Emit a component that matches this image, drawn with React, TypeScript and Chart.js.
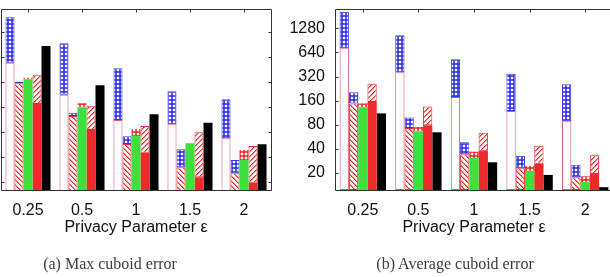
import React, { useEffect, useRef } from 'react';
import { Chart, registerables } from 'chart.js';

Chart.register(...registerables);

// ---------- data ----------
const epsilonLabels = ['0.25', '0.5', '1', '1.5', '2'];

// (a) Max cuboid error (linear axis, labels cropped in the figure)
const maxTicks = [100, 200, 300, 400, 500, 600, 700];
const maxA_base = [577, 449, 348, 331, 275];
const maxA_top = [759, 655, 555, 463, 431];
const maxB_base = [495, 364, 252, 159, 135];
const maxB_top = [501, 377, 283, 231, 188];
const maxC_base = [511, 399, 284, 255, 188];
const maxC_top = [517, 415, 312, 255, 228];
const maxD_base = [412, 308, 217, 119, 97];
const maxD_top = [527, 405, 324, 299, 244];
const maxE = [644, 487, 371, 337, 251];

// (b) Average cuboid error (log2 axis)
const avgTicks = [20, 40, 80, 160, 320, 640, 1280];
const avgA_base = [722, 362, 178, 119, 88.5];
const avgA_top = [2070, 1050, 527, 348, 256];
const avgB_base = [148, 73, 34.3, 22.9, 17.7];
const avgB_top = [204, 99, 48.4, 32.9, 25.4];
const avgC_base = [132, 66, 30.8, 21.2, 15.4];
const avgC_top = [148, 75, 36.9, 24.5, 18.2];
const avgD_base = [154, 79, 38, 26.1, 19.4];
const avgD_top = [261, 135, 63.8, 43.9, 33.3];
const avgE = [111, 64.5, 27.2, 18.9, 13.3];

// ---------- styles ----------
const PINK = '#e2546e';
const BLUE = '#3434e6';
const RED = '#f02a2a';
const GREEN = '#3ee03e';
const FONT = "'Liberation Sans', Arial, sans-serif";

function makeTile(ctx: CanvasRenderingContext2D, size: number, fn: (x: number, y: number) => string | null) {
  const c = document.createElement('canvas');
  c.width = size;
  c.height = size;
  const t = c.getContext('2d')!;
  t.fillStyle = '#ffffff';
  t.fillRect(0, 0, size, size);
  for (let y = 0; y < size; y++) {
    for (let x = 0; x < size; x++) {
      const col = fn(x, y);
      if (col) {
        t.fillStyle = col;
        t.fillRect(x, y, 1, 1);
      }
    }
  }
  return ctx.createPattern(c, 'repeat') as CanvasPattern;
}

function patterns(ctx: CanvasRenderingContext2D) {
  // dense cross-hatch: coloured grid with small white holes
  const cross = (col: string, soft: string) =>
    makeTile(ctx, 4, (x, y) => {
      const inX = x === 1 || x === 2;
      const inY = y === 1 || y === 2;
      if (inX && inY) return null;
      if (inX || inY) return soft;
      return col;
    });
  const back = makeTile(ctx, 5, (x, y) => {
    const d = (((x - y) % 5) + 5) % 5;
    return d === 0 ? RED : d === 1 ? '#f48a8a' : null;
  });
  const fwd = makeTile(ctx, 5, (x, y) => {
    const d = (x + y) % 5;
    return d === 0 ? RED : d === 1 ? '#f48a8a' : null;
  });
  return {
    blueX: cross(BLUE, '#5a5af0'),
    redX: cross(RED, '#f25a5a'),
    back,
    fwd,
  };
}

function framePlugin(yTicks: number[]) {
  return {
    id: 'frame',
    afterDraw(chart: any) {
      const { ctx, chartArea: a } = chart;
      const L = Math.floor(a.left) + 0.5;
      const R = Math.floor(a.right) + 0.5;
      const T = Math.floor(a.top) + 0.5;
      const B = Math.floor(a.bottom) + 0.5;
      ctx.save();
      ctx.strokeStyle = '#333333';
      ctx.lineWidth = 1;
      ctx.beginPath();
      ctx.rect(L, T, R - L, B - T);
      const len = 3;
      yTicks.forEach((v) => {
        const y = Math.round(chart.scales.y.getPixelForValue(v)) + 0.5;
        ctx.moveTo(L, y);
        ctx.lineTo(L + len, y);
        ctx.moveTo(R, y);
        ctx.lineTo(R - len, y);
      });
      epsilonLabels.forEach((_, i) => {
        const x = Math.round(chart.scales.x.getPixelForValue(i)) + 0.5;
        ctx.moveTo(x, T);
        ctx.lineTo(x, T + len);
      });
      ctx.stroke();
      ctx.restore();
    },
  };
}

const zeroPad = (s: any) => {
  s.paddingTop = 0;
  s.paddingBottom = 0;
  s.paddingLeft = 0;
  s.paddingRight = 0;
};

function buildConfig(ctx: CanvasRenderingContext2D, kind: 'max' | 'avg'): any {
  const p = patterns(ctx);
  const d =
    kind === 'max'
      ? {
          aB: maxA_base, aT: maxA_top, bB: maxB_base, bT: maxB_top,
          cB: maxC_base, cT: maxC_top, dB: maxD_base, dT: maxD_top, e: maxE,
        }
      : {
          aB: avgA_base, aT: avgA_top, bB: avgB_base, bT: avgB_top,
          cB: avgC_base, cT: avgC_top, dB: avgD_base, dT: avgD_top, e: avgE,
        };
  const pair = (b: number[], t: number[]) => b.map((v, i) => [v, t[i]]);
  const common = { borderWidth: 1, borderSkipped: false };
  const datasets = [
    { ...common, label: 'A', stack: 'a', data: d.aB, backgroundColor: '#ffffff', borderColor: PINK },
    { ...common, label: 'A2', stack: 'a', data: pair(d.aB, d.aT), backgroundColor: p.blueX, borderColor: BLUE },
    { ...common, label: 'B', stack: 'b', data: d.bB, backgroundColor: p.back, borderColor: RED },
    { ...common, label: 'B2', stack: 'b', data: pair(d.bB, d.bT), backgroundColor: p.blueX, borderColor: BLUE },
    { ...common, label: 'C', stack: 'c', data: d.cB, backgroundColor: GREEN, borderWidth: 0 },
    { ...common, label: 'C2', stack: 'c', data: pair(d.cB, d.cT), backgroundColor: p.redX, borderWidth: 0 },
    { ...common, label: 'D', stack: 'd', data: d.dB, backgroundColor: RED, borderWidth: 0 },
    { ...common, label: 'D2', stack: 'd', data: pair(d.dB, d.dT), backgroundColor: p.fwd, borderColor: RED },
    { ...common, label: 'E', stack: 'e', data: d.e, backgroundColor: '#000000', borderWidth: 0 },
  ];

  const yTicks = kind === 'max' ? maxTicks : avgTicks;
  const yScale: any =
    kind === 'max'
      ? {
          type: 'linear',
          display: false,
          stacked: false,
          bounds: 'data',
          min: 68,
          max: 792,
          afterBuildTicks: (s: any) => {
            s.ticks = maxTicks.map((v) => ({ value: v }));
          },
        }
      : {
          type: 'logarithmic',
          display: true,
          stacked: false,
          bounds: 'data',
          min: 12.26,
          max: 2236,
          grid: { display: false, drawTicks: false },
          border: { display: false },
          afterBuildTicks: (s: any) => {
            s.ticks = avgTicks.map((v) => ({ value: v }));
          },
          afterFit: (s: any) => {
            s.width = 65;
            zeroPad(s);
          },
          ticks: {
            padding: 10,
            color: '#111111',
            font: { family: FONT, size: 16, lineHeight: 1 },
            callback: (v: any) => String(v),
          },
        };

  return {
    type: 'bar',
    data: { labels: epsilonLabels, datasets },
    options: {
      responsive: false,
      animation: false,
      events: [],
      categoryPercentage: 0.834,
      barPercentage: 1,
      layout: {
        padding:
          kind === 'max'
            ? { left: 1, top: 9, right: 29, bottom: 41 }
            : { left: 0, top: 9, right: 2, bottom: 41 },
      },
      plugins: { legend: { display: false }, tooltip: { enabled: false }, title: { display: false } },
      scales: {
        x: {
          type: 'category',
          stacked: true,
          offset: true,
          grid: { display: false, drawTicks: false },
          border: { display: false },
          afterFit: (s: any) => {
            s.height = 46;
            zeroPad(s);
          },
          ticks: {
            padding: 13,
            color: '#111111',
            maxRotation: 0,
            autoSkip: false,
            font: { family: FONT, size: 16, lineHeight: 1 },
          },
          title: {
            display: true,
            text: 'Privacy Parameter ε',
            color: '#111111',
            padding: { top: 0, bottom: 0 },
            font: { family: FONT, size: 16, lineHeight: 1 },
          },
        },
        y: yScale,
      },
    },
    plugins: [framePlugin(yTicks)],
  };
}

function ChartCanvas(props: { kind: 'max' | 'avg'; left: number; width: number }) {
  const ref = useRef<HTMLCanvasElement>(null);
  useEffect(() => {
    const canvas = ref.current!;
    const chart = new Chart(canvas, buildConfig(canvas.getContext('2d')!, props.kind));
    return () => chart.destroy();
  }, []);
  return (
    <canvas
      ref={ref}
      width={props.width}
      height={277}
      style={{ position: 'absolute', left: props.left, top: 0, width: props.width, height: 277 }}
    />
  );
}

const captionStyle: React.CSSProperties = {
  position: 'absolute',
  top: 256,
  transform: 'translateX(-50%)',
  whiteSpace: 'nowrap',
  fontFamily: "'Liberation Serif', 'DejaVu Serif', serif",
  fontSize: 16,
  lineHeight: '16px',
  color: '#3c3c3c',
};

export default function App() {
  return (
    <div
      style={{
        position: 'fixed',
        left: 0,
        top: 0,
        width: 610,
        height: 277,
        overflow: 'hidden',
        background: '#ffffff',
      }}
    >
      <ChartCanvas kind="max" left={0} width={300} />
      <ChartCanvas kind="avg" left={270} width={345} />
      <div style={{ ...captionStyle, left: 110 }}>(a) Max cuboid error</div>
      <div style={{ ...captionStyle, left: 455 }}>(b) Average cuboid error</div>
    </div>
  );
}
